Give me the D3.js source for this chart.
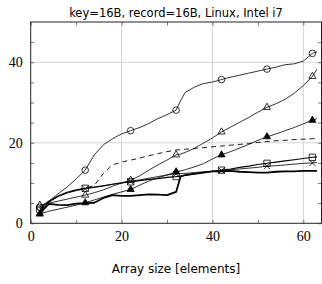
<!DOCTYPE html>
<html>
<head>
<meta charset="utf-8">
<script src="https://cdn.jsdelivr.net/npm/d3@7"></script>
<style>
  body { margin: 0; background: #fff; }
  svg { display: block; }
</style>
</head>
<body>
<svg id="chart"></svg>
<script>
// array sizes sampled along the x axis
const xs = [2, 4, 6, 8, 10, 12, 14, 16, 18, 20, 22, 24, 26, 28, 30, 32, 33, 34, 36, 38, 40,
            42, 44, 46, 48, 50, 52, 54, 56, 58, 60, 62, 63];
const markerXs = [2, 12, 22, 32, 42, 52, 62];

const circleSeries = [4, 5.5, 7.3, 9, 11, 13.2, 17, 19.5, 21, 22.2, 23, 23.8, 24.8, 26, 27, 28.1, 30.5, 32.5, 33.8, 34.7, 35.1,
                      35.7, 36.3, 36.8, 37.3, 37.8, 38.3, 38.8, 39.4, 39.6, 40.3, 42.2, 42.6];
const openTriSeries = [4.5, 5, 5.5, 6, 6.5, 7, 7.6, 8.3, 9.2, 10, 10.7, 11.8, 13.2, 14.5, 15.7, 17, 17.2, 17.6, 18.6, 19.9, 21.2,
                       22.7, 23.9, 25.1, 26.3, 27.6, 28.8, 29.7, 30.8, 32.3, 34.2, 36.5, 38.3];
const filledTriSeries = [2.3, 3, 3.5, 4, 4.5, 5.1, 5.8, 6.5, 7.2, 7.8, 8.4, 9.5, 10.5, 11.3, 12, 12.8, 13, 13.3, 14, 14.8, 16,
                         17, 17.8, 18.7, 19.6, 20.6, 21.5, 22.2, 23, 23.8, 24.7, 25.6, 26];
const squareSeries = [3.5, 5.5, 6.8, 7.7, 8.3, 8.7, 9, 9.3, 9.7, 10, 10.3, 10.6, 10.9, 11.1, 11.4, 11.6, 11.75, 11.9, 12.3, 12.6, 12.9,
                      13.2, 13.5, 13.9, 14.2, 14.6, 14.9, 15.2, 15.5, 15.8, 16.1, 16.4, 16.5];
const crossSeries = [3, 5.2, 6.6, 7.5, 8.1, 8.6, 8.9, 9.3, 9.7, 10.1, 10.4, 10.8, 11.2, 11.6, 12, 12.3, 12.35, 12.4, 12.6, 12.8, 12.9,
                     13.1, 13.3, 13.5, 13.7, 13.9, 14.2, 14.3, 14.5, 14.7, 14.9, 15, 15.1];
const dashedSeries = [3.2, 5.3, 6.7, 7.6, 8.2, 8.7, 9.4, 12.4, 14.5, 15.2, 15.7, 16.2, 16.8, 17.3, 17.8, 18.2, 18.3, 18.4, 18.6, 18.8, 19,
                      19.2, 19.4, 19.6, 19.8, 20.1, 20.3, 20.5, 20.6, 20.8, 20.9, 21, 21.1];
const thickSeries = [2.5, 4.8, 4.6, 4.5, 4.9, 5, 5.1, 6.3, 7, 6.8, 6.8, 7, 7.2, 7.1, 7, 7.8, 11.6, 12, 12.3, 12.6, 12.9,
                     12.9, 13, 12.8, 12.7, 12.6, 12.6, 12.8, 12.9, 12.9, 13, 13, 13];

const xTicks = [0, 20, 40, 60];
const yTicks = [0, 20, 40];
const xMinor = [10, 30, 50];
const yMinor = [5, 10, 15, 25, 30, 35, 45];

const titleText = 'key=16B, record=16B, Linux, Intel i7';
const xLabel = 'Array size [elements]';

const width = 322, height = 284;
const margin = {top: 22, right: 0.5, bottom: 60.7, left: 30.7};
const innerW = width - margin.left - margin.right;
const innerH = height - margin.top - margin.bottom;

const svg = d3.select('#chart').attr('width', width).attr('height', height);

const xscale = d3.scaleLinear().domain([0, 64]).range([margin.left, margin.left + innerW]);
const yscale = d3.scaleLinear().domain([0, 50]).range([margin.top + innerH, margin.top]);

// grid
const grid = svg.append('g');
grid.selectAll('.gx').data(xTicks.filter(d => d > 0)).join('line')
    .attr('x1', d => xscale(d)).attr('x2', d => xscale(d))
    .attr('y1', yscale(0)).attr('y2', yscale(50))
    .attr('stroke', '#d4d4d4').attr('stroke-width', 1);
grid.selectAll('.gy').data(yTicks.filter(d => d > 0)).join('line')
    .attr('x1', xscale(0)).attr('x2', xscale(64))
    .attr('y1', d => yscale(d)).attr('y2', d => yscale(d))
    .attr('stroke', '#d4d4d4').attr('stroke-width', 1);

// ticks (inside, all four sides)
function tickAxis(axis, transform) {
    const g = svg.append('g').attr('transform', transform).call(axis);
    g.select('.domain').remove();
    g.selectAll('text').remove();
    g.selectAll('line').attr('stroke', '#444').attr('stroke-width', 0.7);
}
const allX = xTicks.concat(xMinor);
const allY = yTicks.concat(yMinor);
tickAxis(d3.axisBottom(xscale).tickValues(allX).tickSize(-3.5), `translate(0,${yscale(0)})`);
tickAxis(d3.axisTop(xscale).tickValues(allX).tickSize(-3.5), `translate(0,${yscale(50)})`);
tickAxis(d3.axisLeft(yscale).tickValues(allY).tickSize(-3.5), `translate(${xscale(0)},0)`);
tickAxis(d3.axisRight(yscale).tickValues(allY).tickSize(-3.5), `translate(${xscale(64)},0)`);

// tick labels
const xLabels = svg.append('g').attr('transform', `translate(0,${yscale(0)})`)
    .call(d3.axisBottom(xscale).tickValues(xTicks).tickSize(0).tickPadding(8));
xLabels.select('.domain').remove();
xLabels.selectAll('text').attr('font-family', '"Liberation Serif", serif').attr('font-size', 14).attr('fill', '#000');

const yLabels = svg.append('g').attr('transform', `translate(${xscale(0)},0)`)
    .call(d3.axisLeft(yscale).tickValues(yTicks).tickSize(0).tickPadding(8));
yLabels.select('.domain').remove();
yLabels.selectAll('text').attr('font-family', '"Liberation Serif", serif').attr('font-size', 14).attr('fill', '#000');

// series
const line = d3.line().x(d => xscale(d[0])).y(d => yscale(d[1]));
const pairs = vals => xs.map((x, i) => [x, vals[i]]);

const series = [
    {vals: dashedSeries, width: 0.9, dash: '5,4', symbol: null},
    {vals: thickSeries, width: 1.8, dash: null, symbol: null},
    {vals: crossSeries, width: 0.8, dash: null, symbol: d3.symbolX, size: 28, fill: 'none'},
    {vals: squareSeries, width: 1.1, dash: null, symbol: d3.symbolSquare, size: 40, fill: 'none'},
    {vals: filledTriSeries, width: 0.8, dash: null, symbol: d3.symbolTriangle, size: 22, fill: '#000'},
    {vals: openTriSeries, width: 0.8, dash: null, symbol: d3.symbolTriangle, size: 22, fill: 'none'},
    {vals: circleSeries, width: 0.8, dash: null, symbol: d3.symbolCircle, size: 34, fill: 'none'}
];

const plot = svg.append('g');
series.forEach(s => {
    const data = pairs(s.vals);
    plot.append('path')
        .datum(data)
        .attr('d', line)
        .attr('fill', 'none')
        .attr('stroke', '#000')
        .attr('stroke-width', s.width)
        .attr('stroke-linejoin', 'round')
        .attr('stroke-dasharray', s.dash);
    if (s.symbol) {
        const sym = d3.symbol().type(s.symbol).size(s.size);
        plot.selectAll(null)
            .data(data.filter(d => markerXs.includes(d[0])))
            .join('path')
            .attr('transform', d => `translate(${xscale(d[0])},${yscale(d[1])})`)
            .attr('d', sym)
            .attr('fill', s.fill)
            .attr('stroke', '#000')
            .attr('stroke-width', 0.8);
    }
});

// frame
svg.append('rect')
    .attr('x', xscale(0)).attr('y', yscale(50))
    .attr('width', xscale(64) - xscale(0)).attr('height', yscale(0) - yscale(50))
    .attr('fill', 'none').attr('stroke', '#222').attr('stroke-width', 1);

// title and axis label
svg.append('text')
    .attr('x', 176).attr('y', 17)
    .attr('text-anchor', 'middle')
    .attr('font-family', '"DejaVu Sans", sans-serif')
    .attr('font-size', 11.5)
    .text(titleText);

svg.append('text')
    .attr('x', 176).attr('y', 273)
    .attr('text-anchor', 'middle')
    .attr('font-family', '"DejaVu Sans", sans-serif')
    .attr('font-size', 12)
    .text(xLabel);
</script>
</body>
</html>
